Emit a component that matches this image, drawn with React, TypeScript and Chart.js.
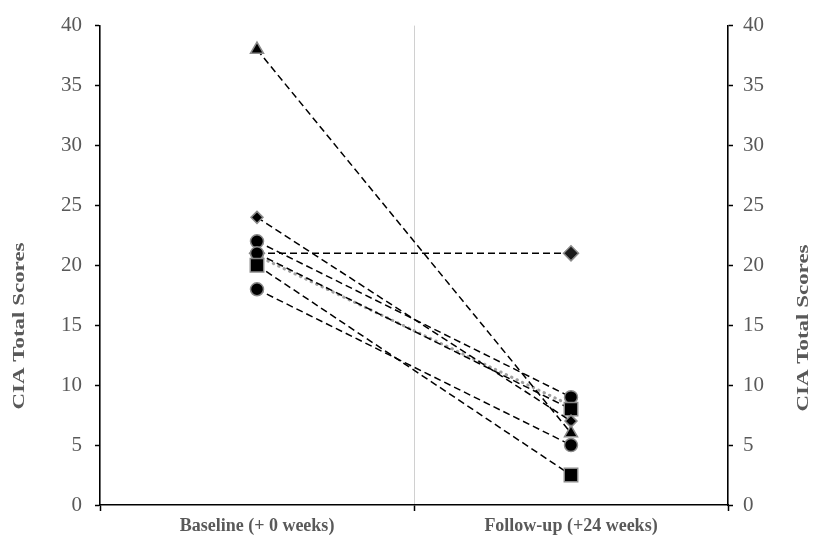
import React, { useEffect, useRef } from "react";
import { Chart, registerables } from "chart.js";

Chart.register(...registerables);

const categories = ["Baseline (+ 0 weeks)", "Follow-up (+24 weeks)"];
const yTicks = [0, 5, 10, 15, 20, 25, 30, 35, 40];
const axisTitle = "CIA Total Scores";

const triangleSeries = [38, 6];
const smallDiamondSeries = [24, 7];
const circleHighSeries = [22, 9];
const mixedSeries = [21, 8];
const diamondFlatSeries = [21, 21];
const squareLowSeries = [20, 2.5];
const circleLowSeries = [18, 5];
const grayDottedSeries = [20.8, 8.3];

const FONT = "'Liberation Serif', 'Times New Roman', serif";
const TEXT_GRAY = "#595959";
const MARK_BORDER = "#8a8a8a";

function blackSeries(label: string, data: number[], pointStyle: any, radius: any, fill = "#000000") {
  return {
    label,
    data,
    borderColor: "#000000",
    borderWidth: 1.5,
    borderDash: [7, 4],
    pointStyle,
    pointRadius: radius,
    pointBackgroundColor: fill,
    pointBorderColor: MARK_BORDER,
    pointBorderWidth: 1.5,
    fill: false,
    tension: 0,
  };
}

const titlePlugin = {
  id: "sideTitles",
  afterDraw(chart: any) {
    const ctx = chart.ctx as CanvasRenderingContext2D;
    const targetLen = 167;
    const draw = (cx: number, cy: number) => {
      ctx.save();
      ctx.font = `bold 16px ${FONT}`;
      ctx.fillStyle = TEXT_GRAY;
      ctx.textAlign = "center";
      ctx.textBaseline = "middle";
      const w = ctx.measureText(axisTitle).width;
      ctx.translate(cx, cy);
      ctx.rotate(-Math.PI / 2);
      ctx.scale(targetLen / w, 1);
      ctx.fillText(axisTitle, 0, 0);
      ctx.restore();
    };
    draw(20, 326);
    draw(804, 328);
  },
};

export default function App() {
  const ref = useRef<HTMLCanvasElement | null>(null);

  useEffect(() => {
    if (!ref.current) return;
    const yCommon = {
      min: 0,
      max: 40,
      afterBuildTicks: (scale: any) => {
        scale.ticks = yTicks.map((v) => ({ value: v }));
      },
      border: { display: true, color: "#000000", width: 1.5 },
      grid: {
        drawOnChartArea: false,
        drawTicks: true,
        tickLength: 5,
        tickColor: "#000000",
        tickWidth: 1.5,
      },
    };
    const chart = new Chart(ref.current, {
      type: "line",
      data: {
        labels: categories,
        datasets: [
          blackSeries("A", triangleSeries, "triangle", 7.5),
          blackSeries("B", smallDiamondSeries, "rectRot", 6),
          blackSeries("F", squareLowSeries, "rect", 9.5),
          blackSeries("D", mixedSeries, ["circle", "rect"], [6.5, 9.5]),
          blackSeries("C", circleHighSeries, "circle", 6.5),
          blackSeries("E", diamondFlatSeries, "rectRot", 7.5, "#1a1a1a"),
          blackSeries("G", circleLowSeries, "circle", 6.5),
          {
            label: "H",
            data: grayDottedSeries,
            borderColor: "#a0a0a0",
            borderWidth: 3,
            borderDash: [0.5, 5.5],
            borderCapStyle: "round",
            pointStyle: "circle",
            pointRadius: 2.5,
            pointBackgroundColor: "#a0a0a0",
            pointBorderColor: "#a0a0a0",
            pointBorderWidth: 0,
            fill: false,
            tension: 0,
          } as any,
        ],
      },
      options: {
        responsive: false,
        animation: false,
        layout: { padding: { top: 25, left: 0, right: 0, bottom: 0 } },
        plugins: {
          legend: { display: false },
          tooltip: { enabled: false },
          title: { display: false },
        },
        scales: {
          x: {
            type: "category",
            offset: true,
            afterFit: (scale: any) => {
              scale.height = 36;
            },
            border: { display: true, color: "#000000", width: 1.5 },
            grid: {
              offset: true,
              display: true,
              drawOnChartArea: true,
              color: "#d0d0d0",
              lineWidth: 1,
              tickLength: 6,
              tickColor: "#000000",
              tickWidth: 1.5,
            },
            ticks: {
              color: TEXT_GRAY,
              font: { family: FONT, size: 18, weight: "bold" },
              padding: 5,
              maxRotation: 0,
            },
          },
          y: {
            ...yCommon,
            position: "left",
            afterFit: (scale: any) => {
              scale.width = 100;
            },
            ticks: {
              color: TEXT_GRAY,
              font: { family: FONT, size: 21 },
              padding: 13,
            },
          } as any,
          y2: {
            ...yCommon,
            position: "right",
            afterFit: (scale: any) => {
              scale.width = 89;
            },
            ticks: {
              color: TEXT_GRAY,
              font: { family: FONT, size: 21 },
              padding: 10,
            },
          } as any,
        },
      },
      plugins: [titlePlugin],
    });
    return () => chart.destroy();
  }, []);

  return (
    <div style={{ position: "absolute", left: 0, top: 0, width: 817, height: 541, background: "#ffffff" }}>
      <canvas ref={ref} width={817} height={541} style={{ width: 817, height: 541, display: "block" }} />
    </div>
  );
}
